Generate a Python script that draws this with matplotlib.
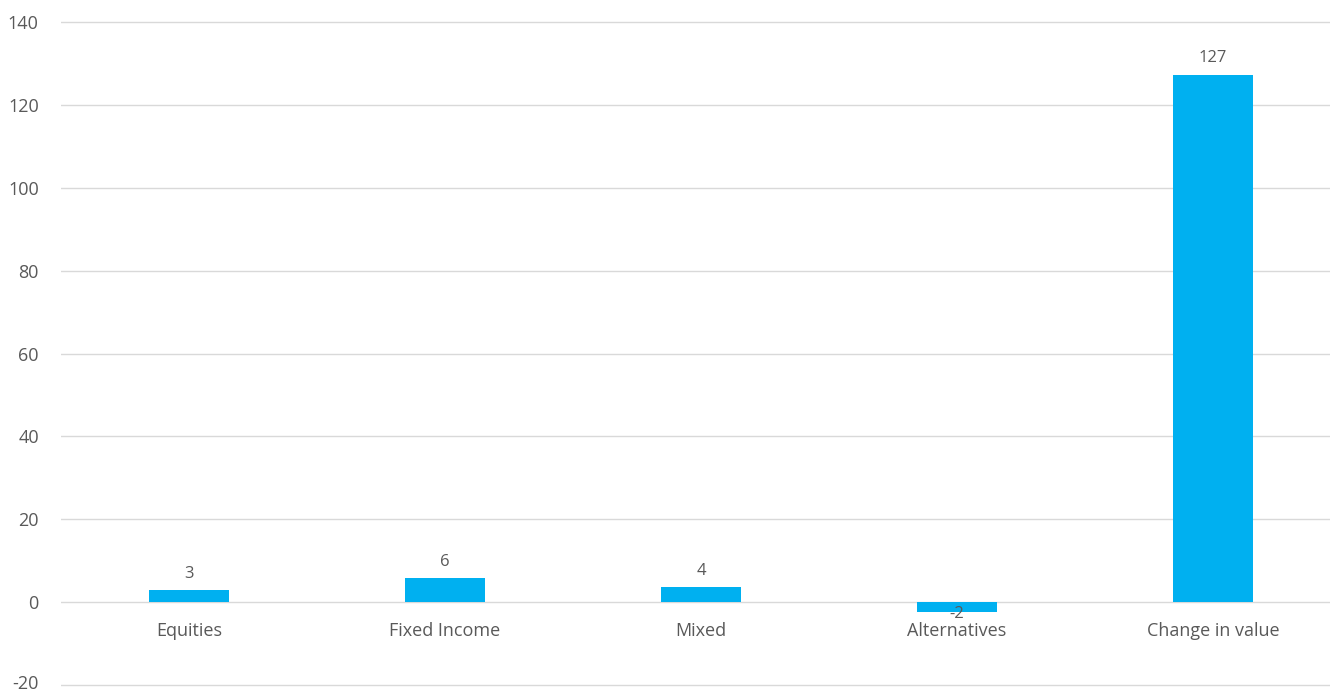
import matplotlib
matplotlib.use("Agg")
import matplotlib.pyplot as plt
import matplotlib.transforms as mtransforms

# values
categories = ['Equities', 'Fixed Income', 'Mixed', 'Alternatives', 'Change in value']
values = [2.9, 5.8, 3.6, -2.3, 127.3]
labels = ['3', '6', '4', '-2', '127']
yticks = [-20, 0, 20, 40, 60, 80, 100, 120, 140]

plt.rcParams['font.family'] = ['Open Sans', 'DejaVu Sans']
plt.rcParams['axes.unicode_minus'] = False
grey = '#595959'

fig = plt.figure(figsize=(13.3, 6.91), dpi=100)
# y range padded a little so the outer gridlines are not clipped
ax = fig.add_axes([61 / 1330, 1 - 687 / 691, 1280 / 1330, (687 - 20) / 691])

x = range(len(categories))
bars = ax.bar(x, values, width=0.31, color='#00B0F0', zorder=3)

# value labels
for b, v, t in zip(bars, values, labels):
    cx = b.get_x() + b.get_width() / 2
    if v >= 0:
        ax.annotate(t, (cx, v), xytext=(0, 6), textcoords='offset points',
                    ha='center', va='bottom', fontsize=12, color=grey)
    else:
        ax.annotate(t, (cx, v), xytext=(0, -2), textcoords='offset points',
                    ha='center', va='center', fontsize=12, color=grey)

ax.set_xlim(-0.5, len(categories) - 0.5)
ax.set_ylim(-20.5, 140.5)
ax.set_yticks(yticks)
ax.yaxis.grid(True, color='#D9D9D9', linewidth=1, zorder=0)

# category labels sit at the zero line, like the Excel chart
ax.spines['bottom'].set_position(('data', 0))
for s in ['top', 'right', 'left', 'bottom']:
    ax.spines[s].set_visible(False)
ax.set_xticks(list(x))
ax.set_xticklabels(categories, fontsize=13, color=grey)
ax.tick_params(axis='x', length=0, pad=14)
ax.tick_params(axis='y', length=0, pad=16, labelsize=13, labelcolor=grey)

# lift the bottom tick label a touch so it stays inside the image
lbl = ax.get_yticklabels()[0]
lbl.set_transform(lbl.get_transform() +
                  mtransforms.ScaledTranslation(0, 3 / 100, fig.dpi_scale_trans))

fig.savefig('out.png', dpi=100)
